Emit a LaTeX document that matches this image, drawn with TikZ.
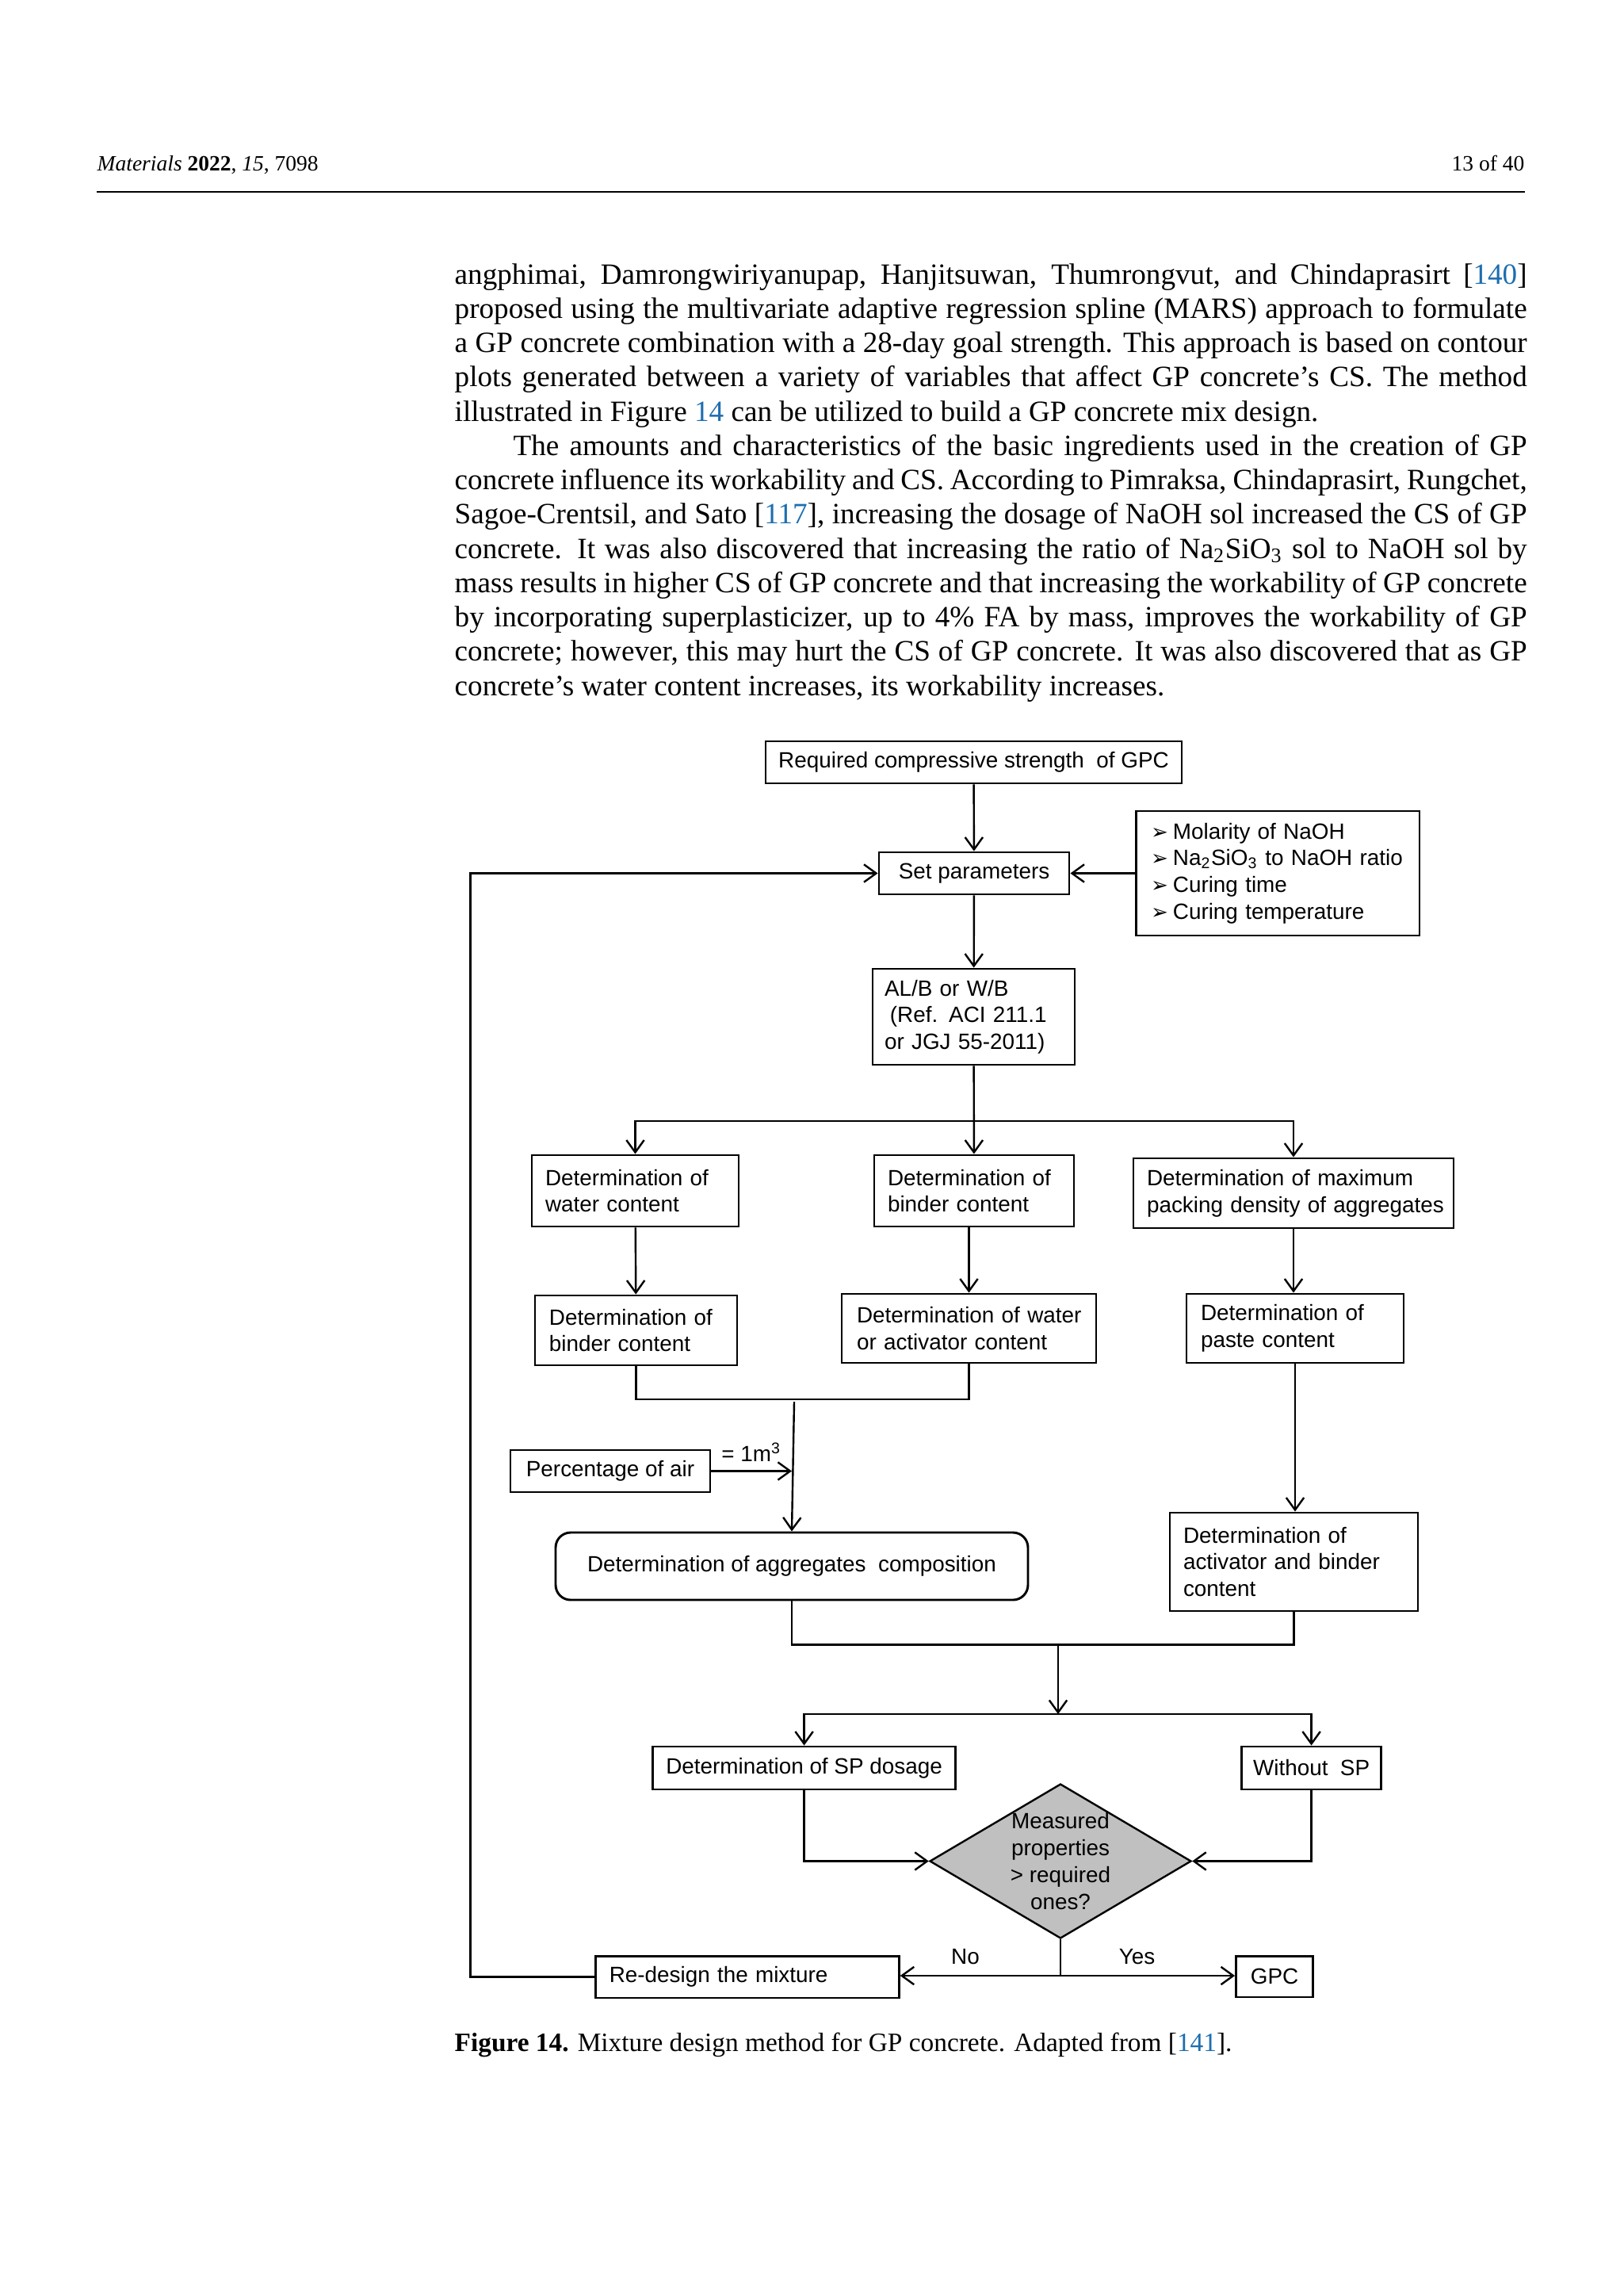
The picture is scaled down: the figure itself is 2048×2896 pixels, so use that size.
\documentclass[tikz,border=0pt]{standalone}
\usepackage{fontspec}
\setmainfont{Liberation Serif}
\newfontfamily\figfont{Liberation Sans}
\newfontfamily\symfont{DejaVu Sans}
\usetikzlibrary{arrows.meta,shapes.geometric}
\definecolor{citeblue}{RGB}{30,110,175}
\definecolor{diagray}{RGB}{192,192,192}
\newcommand\citeb[1]{\textcolor{citeblue}{#1}}
\newcommand\figsz{\figfont\fontsize{8.1}{9.8}\selectfont}
\newcommand\bodysz{\fontsize{10.8}{12.57}\selectfont}
\newcommand\bulmark{\makebox[8.1pt][l]{{\symfont\fontsize{7.6}{8}\selectfont ➢}}}
\newcommand\jline[1]{\makebox[393.27pt][s]{#1}}
\begin{document}
\begin{tikzpicture}[x=0.29066pt,y=-0.29066pt,
  body/.style={anchor=base west, inner sep=0pt, font=\bodysz},
  fbox/.style={draw, line width=0.85pt, font=\figsz, inner ysep=0pt},
  lbox/.style n args={3}{fbox, align=left, text width=#1pt, inner xsep=#2pt, minimum height=#3pt},
  cbox/.style 2 args={fbox, align=center, inner sep=0pt, minimum width=#1pt, minimum height=#2pt},
  ln/.style={line width=0.7pt},
  arr/.style={ln, -{Straight Barb[length=4.5pt,width=6.5pt]}},
  lab/.style={font=\figsz, inner sep=0pt}]
\fill[white] (0,0) rectangle (2048,2896);
\useasboundingbox (0,0) rectangle (2048,2896);

% header
\node[anchor=base west, inner sep=0pt, font=\fontsize{8}{10}\selectfont] (hl) at (122,215) {\textit{Materials} \textbf{2022}, \textit{15}, 7098};
\node[anchor=base east, inner sep=0pt, font=\fontsize{8}{10}\selectfont] (hr) at (1924,215) {13 of 40};
\draw[line width=0.5pt] (122,242) -- (1924,242);

% body text
\node[body] (b1) at (573,358) {\jline{angphimai, Damrongwiriyanupap, Hanjitsuwan, Thumrongvut, and Chindaprasirt [\citeb{140}]}};
\node[body] (b2) at (573,401.25) {\jline{proposed using the multivariate adaptive regression spline (MARS) approach to formulate}};
\node[body] (b3) at (573,444.5) {\jline{a GP concrete combination with a 28-day goal strength. This approach is based on contour}};
\node[body] (b4) at (573,487.75) {\jline{plots generated between a variety of variables that affect GP concrete's CS. The method}};
\node[body] (b5) at (573,531) {illustrated in Figure \citeb{14} can be utilized to build a GP concrete mix design.};
\node[body] (b6) at (647,574.25) {\makebox[371.77pt][s]{The amounts and characteristics of the basic ingredients used in the creation of GP}};
\node[body] (b7) at (573,617.5) {\jline{concrete influence its workability and CS. According to Pimraksa, Chindaprasirt, Rungchet,}};
\node[body] (b8) at (573,660.75) {\jline{Sagoe-Crentsil, and Sato [\citeb{117}], increasing the dosage of NaOH sol increased the CS of GP}};
\node[body] (b9) at (573,704) {\jline{concrete. It was also discovered that increasing the ratio of Na\textsubscript{2}SiO\textsubscript{3} sol to NaOH sol by}};
\node[body] (b10) at (573,747.25) {\jline{mass results in higher CS of GP concrete and that increasing the workability of GP concrete}};
\node[body] (b11) at (573,790.5) {\jline{by incorporating superplasticizer, up to 4\% FA by mass, improves the workability of GP}};
\node[body] (b12) at (573,833.75) {\jline{concrete; however, this may hurt the CS of GP concrete. It was also discovered that as GP}};
\node[body] (b13) at (573,877) {concrete's water content increases, its workability increases.};

% flowchart nodes
\node[cbox={152.6}{15.4}] (top) at (1228.5,961.5) {Required compressive strength\ \ of GPC};
\node[cbox={69.76}{15.4}] (setp) at (1229,1101.5) {Set parameters};
\node[lbox={93.0}{5.52}{45.63}] (bul) at (1612,1101.5) {\bulmark Molarity of NaOH\\\bulmark Na\textsubscript{2}SiO\textsubscript{3} to NaOH ratio\\\bulmark Curing time\\\bulmark Curing temperature};
\node[lbox={65.4}{4.36}{35.17}] (alb) at (1228.5,1282.5) {\mbox{AL/B or W/B}\\\mbox{\hspace*{2pt}(Ref. ACI 211.1}\\\mbox{or JGJ 55-2011)}};

\node[lbox={65.98}{4.94}{26.16}] (r1a) at (801.5,1502) {\mbox{Determination of}\\\mbox{water content}};
\node[lbox={63.37}{4.94}{26.16}] (r1b) at (1229,1502) {\mbox{Determination of}\\\mbox{binder content}};
\node[lbox={107.55}{4.94}{25.58}] (r1c) at (1632,1505) {\mbox{Determination of maximum}\\\mbox{packing density of aggregates}};

\node[lbox={63.66}{5.23}{25.58}] (r2a) at (802.5,1678) {\mbox{Determination of}\\\mbox{binder content}};
\node[lbox={82.26}{5.52}{25.29}] (r2b) at (1222.5,1675.5) {\mbox{Determination of water}\\\mbox{or activator content}};
\node[lbox={69.18}{5.23}{25.29}] (r2c) at (1634,1675.5) {\mbox{Determination of}\\\mbox{paste content}};

\node[cbox={73.25}{15.4}] (air) at (770,1855.5) {Percentage of air};
\node[cbox={173.23}{24.71}, rounded corners=5.5pt] (agg) at (999,1975.5) {Determination of aggregates\ \ composition};
\node[lbox={81.1}{4.94}{36.04}] (act) at (1632.5,1970) {\mbox{Determination of}\\\mbox{activator and binder}\\\mbox{content}};

\node[cbox={111.03}{15.7}] (sp) at (1014.6,2230) {Determination of SP dosage};
\node[cbox={51.16}{15.7}] (wsp) at (1654.6,2230) {Without\ \ SP};
\node[diamond, draw, ln, fill=diagray, minimum width=95.92pt, minimum height=56.68pt, inner sep=0pt] (dia) at (1338,2347.5) {};
\node[lab, align=center] (diatxt) at (dia.center) {Measured\\properties\\> required\\ones?};
\node[lbox={101.3}{4.94}{15.4}] (redo) at (943,2493.5) {\mbox{Re-design the mixture}};
\node[cbox={28.19}{15.11}] (gpc) at (1608,2493) {GPC};

% connectors
\draw[arr] (top) -- (setp);
\draw[arr] (bul) -- (setp);
\draw[arr] (setp) -- (alb);
\coordinate (br) at (1228.5,1414);
\draw[arr] (alb) -- (r1b);
\draw[arr] (br) -| (r1a.north);
\draw[arr] (br) -| (r1c.north);
\draw[arr] (r1a) -- (r2a);
\draw[arr] (r2b.north |- r1b.south) -- (r2b.north);
\draw[arr] (r1c.south) -- (r1c.south |- r2c.north);
\coordinate (m1) at (1002,1765);
\draw[ln] (r2a.south) -- (r2a.south |- m1) -- (r2b.south |- m1) -- (r2b.south);
\coordinate (m1s) at (1002,1768);
\draw[arr] (m1s) -- (agg.north);
\draw[arr] (air.east) -- (air.east -| agg.north);
\node[lab] (m3lab) at (948,1832) {= 1m\textsuperscript{3}};
\draw[arr] (r2c.south) -- (r2c.south |- act.north);
\coordinate (m2) at (1335,2074.5);
\draw[ln] (agg.south) -- (agg.south |- m2) -- (act.south |- m2) -- (act.south);
\coordinate (m3) at (1335,2162);
\draw[arr] (m2) -- (m3);
\draw[arr] (m3) -| (sp.north);
\draw[arr] (m3) -| (wsp.north);
\draw[arr] (sp.south) |- (dia.west);
\draw[arr] (wsp.south) |- (dia.east);
\coordinate (m4) at (1338,2492);
\draw[ln] (dia.south) -- (m4);
\draw[arr] (m4) -- (m4 -| redo.east);
\draw[arr] (m4) -- (m4 -| gpc.west);
\node[lab] (nolab) at (1218,2468) {No};
\node[lab] (yeslab) at (1434.5,2468) {Yes};
\coordinate (lp) at (593.5,2493.5);
\draw[arr] (redo.west) -- (lp) |- (setp.west);

% caption
\node[anchor=base west, inner sep=0pt, font=\fontsize{9.7}{12}\selectfont] (cap) at (573,2587) {\textbf{Figure 14.} Mixture design method for GP concrete. Adapted from [\citeb{141}].};
\end{tikzpicture}
\end{document}
